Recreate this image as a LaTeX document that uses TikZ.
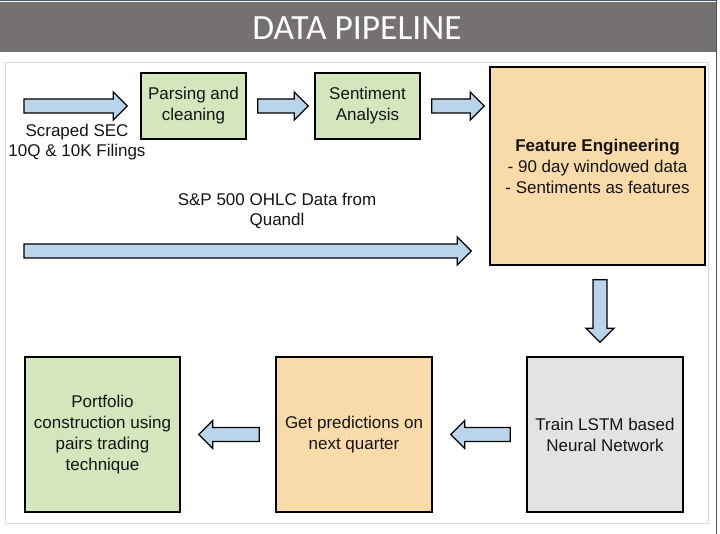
\documentclass[tikz,border=0pt]{standalone}
\usepackage{fontspec}
\setmainfont{Liberation Sans}
\newfontfamily\titlefont{Carlito}
\usepackage{xcolor}
\usepackage{tikz}
\usetikzlibrary{calc}

\definecolor{bandgray}{HTML}{767171}
\definecolor{stepgreen}{HTML}{D3E6BC}
\definecolor{steporange}{HTML}{F9DAA9}
\definecolor{stepgray}{HTML}{E3E3E3}
\definecolor{arrowblue}{HTML}{BAD5EB}
\definecolor{edgegray}{HTML}{44546A}

% block arrow from #1 to #2 (tip at #2)
\newcommand{\fatarrow}[2]{%
  \coordinate (hb) at ($(#2)!14pt!(#1)$);
  \draw[fatedge] ($(#1)!7pt!-90:(#2)$) -- ($(hb)!7pt!90:(#1)$) -- ($(hb)!14pt!90:(#1)$) -- (#2)
    -- ($(hb)!14pt!-90:(#1)$) -- ($(hb)!7pt!-90:(#1)$) -- ($(#1)!7pt!90:(#2)$) -- cycle;}

\begin{document}
\begin{tikzpicture}[x=1pt,y=-1pt,
stepbox/.style={draw=black,line width=1.5pt,align=center,inner sep=2pt,text=black!92,
  font=\fontsize{17}{21}\selectfont},
labeltext/.style={align=center,inner sep=0pt,text=black!92,font=\fontsize{17}{20}\selectfont},
titletext/.style={text=white,inner sep=0pt,font=\titlefont\fontsize{35.5}{40}\selectfont},
fatedge/.style={draw=black,fill=arrowblue,line width=1.3pt,line join=miter}]
\useasboundingbox (0,0) rectangle (720,534);
% slide background
\fill[white] (0,0) rectangle (720,534);
\fill[bandgray] (0,2) rectangle (716,52);
\draw[edgegray,line width=1pt] (0,1) -- (716.5,1) -- (716.5,534);
\node[titletext] (title) at (357,28) {DATA PIPELINE};
\draw[black!15,line width=1pt] (5,63) rectangle (708,523);

% boxes
\node[stepbox,fill=stepgreen,minimum width=105pt,minimum height=66pt] (parse) at (193.5,106) {Parsing and\\cleaning};
\node[stepbox,fill=stepgreen,minimum width=105pt,minimum height=66pt] (sent) at (367.5,106) {Sentiment\\Analysis};
\node[stepbox,fill=steporange,minimum width=215pt,minimum height=198pt] (feat) at (597.5,166)
  {\textbf{Feature Engineering}\\- 90 day windowed data\\- Sentiments as features};
\node[stepbox,fill=stepgray,minimum width=156pt,minimum height=155pt] (lstm) at (605,434.5) {Train LSTM based\\Neural Network};
\node[stepbox,fill=steporange,minimum width=156pt,minimum height=155pt] (pred) at (354,434.5) {Get predictions on\\next quarter};
\node[stepbox,fill=stepgreen,minimum width=155pt,minimum height=155pt] (port) at (102.5,434.5) {Portfolio\\construction using\\pairs trading\\technique};

% inputs
\node[labeltext] (sec) at (77,142) {Scraped SEC\\10Q \& 10K Filings};
\node[labeltext] (ohlc) at (277,211) {S\&P 500 OHLC Data from\\Quandl};

% arrows
\coordinate (secin) at (24,106);
\coordinate (a1e) at ($(parse.west)+(-13,0)$);
\coordinate (a2s) at ($(parse.east)+(11,0)$);
\coordinate (a2e) at ($(sent.west)+(-6,0)$);
\coordinate (a3s) at ($(sent.east)+(11,0)$);
\coordinate (a3e) at ($(feat.west |- sent.east)+(-5,0)$);
\coordinate (ohlcin) at (24,251);
\coordinate (a4e) at ($(feat.west |- ohlcin)+(-18,0)$);
\coordinate (d1) at ($(feat.south)+(2.5,14)$);
\coordinate (d2) at ($(lstm.north -| d1)+(0,-14)$);
\coordinate (l1s) at ($(lstm.west)+(-16,0)$);
\coordinate (l1e) at ($(pred.east)+(18,0)$);
\coordinate (l2s) at ($(pred.west)+(-16,0)$);
\coordinate (l2e) at ($(port.east)+(18,0)$);
\fatarrow{secin}{a1e}
\fatarrow{a2s}{a2e}
\fatarrow{a3s}{a3e}
\fatarrow{ohlcin}{a4e}
\fatarrow{d1}{d2}
\fatarrow{l1s}{l1e}
\fatarrow{l2s}{l2e}
\end{tikzpicture}
\end{document}
